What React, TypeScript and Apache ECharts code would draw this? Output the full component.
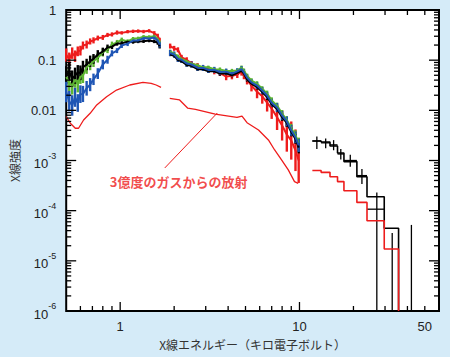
import { useEffect, useRef } from 'react';
import * as echarts from 'echarts';

// ---- axes ----
const X_MIN = 0.5;
const X_MAX = 60;
const Y_MIN = 1e-6;
const Y_MAX = 1;
const xMajorTicks = [1, 10];
const xMinorTicks = [0.6, 0.7, 0.8, 0.9, 2, 3, 4, 5, 6, 7, 8, 9, 20, 30, 40, 50];
const xTickLabels = [1, 10, 50];
const yDecades = [1e-6, 1e-5, 1e-4, 1e-3, 0.01, 0.1, 1];
const yMinorSteps = [2, 3, 4, 5, 6, 7, 8, 9];

// ---- energies (keV) ----
const E1 = [0.50, 0.52, 0.54, 0.56, 0.58, 0.60, 0.62, 0.65, 0.68, 0.71, 0.75, 0.80, 0.85, 0.90, 0.96, 1.02, 1.10, 1.18, 1.26, 1.35, 1.45, 1.55, 1.62, 1.66];
const E2 = [1.90, 2.0, 2.1, 2.2, 2.35, 2.5, 2.7, 2.9, 3.1, 3.35, 3.6, 3.9, 4.2, 4.5, 4.75, 4.9, 5.1, 5.4, 5.8, 6.2, 6.6, 7.0, 7.5, 8.0, 8.5, 9.0, 9.5, 9.9];

// ---- observed spectra (4 detectors) ----
const red1 = [0.127, 0.105, 0.138, 0.120, 0.150, 0.155, 0.196, 0.205, 0.236, 0.248, 0.276, 0.284, 0.318, 0.326, 0.355, 0.350, 0.370, 0.376, 0.380, 0.372, 0.384, 0.345, 0.306, 0.250];
const red1Err = [1.35, 1.35, 1.3, 1.3, 1.25, 1.25, 1.2, 1.2, 1.15, 1.15, 1.12, 1.12, 1.1, 1.1, 1.1, 1.08, 1.08, 1.08, 1.08, 1.08, 1.08, 1.1, 1.1, 1.12];
const red2 = [0.191, 0.172, 0.161, 0.114, 0.102, 0.086, 0.078, 0.069, 0.065, 0.060, 0.056, 0.047, 0.049, 0.052, 0.059, 0.050, 0.041, 0.031, 0.0235, 0.019, 0.0142, 0.0108, 0.0073, 0.0050, 0.0033, 0.0025, 0.0016, 0.0010];
const red2Err = [1.12, 1.12, 1.12, 1.12, 1.12, 1.12, 1.12, 1.12, 1.15, 1.15, 1.15, 1.18, 1.18, 1.18, 1.2, 1.2, 1.25, 1.3, 1.35, 1.4, 1.5, 1.6, 1.8, 2.0, 2.2, 2.4, 2.6, 2.8];

const green1 = [0.0462, 0.0360, 0.0310, 0.0410, 0.0330, 0.0470, 0.0490, 0.0720, 0.0820, 0.0950, 0.112, 0.142, 0.163, 0.204, 0.226, 0.256, 0.236, 0.268, 0.272, 0.293, 0.290, 0.300, 0.266, 0.224];
const green1Err = [1.5, 1.5, 1.5, 1.45, 1.45, 1.4, 1.4, 1.35, 1.3, 1.3, 1.25, 1.2, 1.18, 1.15, 1.12, 1.1, 1.1, 1.08, 1.08, 1.08, 1.08, 1.08, 1.1, 1.1];
const green2 = [0.150, 0.134, 0.120, 0.106, 0.096, 0.085, 0.079, 0.072, 0.072, 0.066, 0.065, 0.061, 0.061, 0.062, 0.071, 0.062, 0.049, 0.039, 0.034, 0.027, 0.0215, 0.0158, 0.0124, 0.0086, 0.0064, 0.0044, 0.0032, 0.0022];
const green2Err = [1.08, 1.08, 1.08, 1.08, 1.08, 1.08, 1.08, 1.08, 1.08, 1.08, 1.1, 1.1, 1.1, 1.1, 1.1, 1.1, 1.1, 1.12, 1.12, 1.12, 1.15, 1.15, 1.15, 1.18, 1.2, 1.22, 1.25, 1.3];

const black1 = [0.0506, 0.0600, 0.0430, 0.0490, 0.0570, 0.0560, 0.0720, 0.0820, 0.0950, 0.106, 0.130, 0.148, 0.178, 0.186, 0.214, 0.216, 0.234, 0.230, 0.236, 0.238, 0.246, 0.236, 0.224, 0.188];
const black1Err = [1.5, 1.5, 1.45, 1.45, 1.4, 1.4, 1.35, 1.3, 1.3, 1.25, 1.22, 1.2, 1.15, 1.12, 1.1, 1.1, 1.08, 1.08, 1.08, 1.08, 1.08, 1.08, 1.1, 1.1];
const black2 = [0.130, 0.122, 0.100, 0.095, 0.080, 0.077, 0.066, 0.066, 0.060, 0.060, 0.054, 0.055, 0.050, 0.056, 0.061, 0.054, 0.041, 0.034, 0.029, 0.0232, 0.0184, 0.0132, 0.0106, 0.0073, 0.0056, 0.0037, 0.0027, 0.0018];
const black2Err = [1.08, 1.08, 1.08, 1.08, 1.08, 1.08, 1.08, 1.08, 1.08, 1.08, 1.1, 1.1, 1.1, 1.1, 1.1, 1.1, 1.1, 1.12, 1.12, 1.12, 1.15, 1.15, 1.15, 1.18, 1.2, 1.22, 1.25, 1.3];

const blue1 = [0.0232, 0.0152, 0.0125, 0.0182, 0.0140, 0.0210, 0.0212, 0.0275, 0.0325, 0.0415, 0.0540, 0.082, 0.102, 0.137, 0.155, 0.196, 0.214, 0.246, 0.248, 0.276, 0.270, 0.282, 0.246, 0.204];
const blue1Err = [1.6, 1.6, 1.6, 1.55, 1.5, 1.5, 1.45, 1.4, 1.35, 1.3, 1.28, 1.25, 1.2, 1.15, 1.12, 1.12, 1.12, 1.1, 1.1, 1.1, 1.1, 1.1, 1.12, 1.14];
const blue2 = [0.139, 0.130, 0.106, 0.102, 0.086, 0.082, 0.071, 0.070, 0.064, 0.064, 0.058, 0.059, 0.054, 0.060, 0.066, 0.057, 0.0450, 0.0360, 0.0312, 0.0248, 0.0198, 0.0142, 0.0114, 0.0079, 0.0060, 0.0040, 0.0029, 0.0020];
const blue2Err = [1.15, 1.15, 1.15, 1.15, 1.15, 1.15, 1.15, 1.15, 1.15, 1.15, 1.15, 1.15, 1.15, 1.15, 1.15, 1.15, 1.16, 1.16, 1.17, 1.18, 1.18, 1.2, 1.22, 1.22, 1.25, 1.28, 1.3, 1.35];

// ---- 300-million-degree gas model ----
const modelE1 = [0.50, 0.527, 0.562, 0.586, 0.625, 0.68, 0.74, 0.84, 0.954, 1.131, 1.34, 1.489, 1.587, 1.69];
const modelI1 = [0.00747, 0.00552, 0.00439, 0.00439, 0.00641, 0.00873, 0.0128, 0.0187, 0.0254, 0.032, 0.0362, 0.0346, 0.032, 0.0288];
const modelE2 = [1.89, 2.145, 2.376, 2.63, 3.39, 4.48, 4.78, 5.1, 5.91, 6.71, 7.27, 7.96, 8.66, 9.38, 9.84];
const modelI2 = [0.0174, 0.0161, 0.0111, 0.0105, 0.0084, 0.00727, 0.0077, 0.00567, 0.00406, 0.00257, 0.00162, 0.00102, 0.00065, 0.00038, 0.00035];

// ---- hard X-ray band (binned) ----
const hardEdges = [11.8, 13.2, 14.8, 16.3, 17.7, 20.9, 23.8, 29.7, 35.7];
const hardModelTotal = [2.45e-3, 2.34e-3, 1.95e-3, 1.41e-3, 9.5e-4, 4.75e-4, 1.9e-4, 4.45e-5];
const hardModelGas = [6.3e-4, 5.8e-4, 4.75e-4, 3.8e-4, 2.5e-4, 1.46e-4, 6.3e-5, 1.72e-5];
const hardDataE = [12.5, 14.0, 15.5, 17.0, 19.2, 22.3, 27.0, 32.9, 42.1];
const hardDataLoE = [11.8, 13.2, 14.8, 16.3, 17.7, 20.9, 23.8, 32.9, 42.1];
const hardDataHiE = [13.2, 14.8, 16.3, 17.7, 20.9, 23.8, 29.7, 32.9, 42.1];
const hardData = [2.45e-3, 2.25e-3, 2.05e-3, 1.35e-3, 1.0e-3, 5.0e-4, 1.07e-4, 3.6e-5, 5.2e-5];
const hardDataLo = [1.7e-3, 1.75e-3, 1.6e-3, 1.05e-3, 7.5e-4, 3.4e-4, 1e-6, 1e-6, 1e-6];
const hardDataHi = [3.0e-3, 2.75e-3, 2.55e-3, 1.7e-3, 1.3e-3, 6.8e-4, 2.3e-4, 3.6e-5, 5.2e-5];

// ---- annotation ----
const annotText = '3億度のガスからの放射';
const annotAt = [2.118, 3.73e-4];
const leaderFrom = [1.773, 7.1e-4];
const leaderTo = [3.48, 0.00885];

const RED = '#ee1c1c';
const GREEN = '#5cb531';
const BLACK = '#000000';
const BLUE = '#1f56b5';
const BG = '#d5ebf8';
const NUM_FONT = "'Liberation Sans', Arial, sans-serif";
const JP_FONT = "'Noto Sans CJK JP', sans-serif";

const lg = Math.log10;

function pts(E: number[], I: number[]) {
  return E.map((e, i) => [lg(e), lg(I[i])]);
}
function bars(E: number[], I: number[], F: number[]) {
  return E.map((e, i) => [lg(e), lg(I[i]), lg(I[i] / F[i]), lg(I[i] * F[i])]);
}
function stepPts(edges: number[], vals: number[]) {
  const d = edges.map((e, i) => [lg(e), lg(vals[Math.min(i, vals.length - 1)])]);
  d.push([lg(edges[edges.length - 1]), lg(Y_MIN)]);
  return d;
}

function errorBarSeries(data: number[][], color: string, width: number) {
  return {
    type: 'custom',
    silent: true,
    data,
    encode: { x: 0, y: 1 },
    renderItem: (_p: any, api: any) => {
      const a = api.coord([api.value(0), api.value(2)]);
      const b = api.coord([api.value(0), api.value(3)]);
      return {
        type: 'line',
        shape: { x1: a[0], y1: a[1], x2: b[0], y2: b[1] },
        style: { stroke: color, lineWidth: width },
      };
    },
  };
}

function noisy(E: number[], I: number[], F: number[], color: string) {
  return [
    {
      type: 'line',
      data: pts(E, I),
      showSymbol: false,
      symbol: 'none',
      silent: true,
      lineStyle: { color, width: 2 },
    },
    errorBarSeries(bars(E, I, F), color, 2.4),
  ];
}

const App = () => {
  const ref = useRef<HTMLDivElement>(null);
  useEffect(() => {
    document.body.style.margin = '0';
    const chart = echarts.init(ref.current!, null, { renderer: 'svg' });

    const yMinor = yDecades.slice(0, -1).flatMap((d) => yMinorSteps.map((k) => k * d));
    const midY = lg(1e-3);
    const midX = lg(2);
    // tick data kept inside the plotting range; drawn onto the frame edges
    const xTickData = [
      ...xMajorTicks.map((v) => [lg(v), midY, 9]),
      ...xMinorTicks.map((v) => [lg(v), midY, 5]),
    ];
    const yTickData = [
      ...yDecades.map((v) => [midX, lg(v), 10]),
      ...yMinor.map((v) => [midX, lg(v), 5]),
    ];

    const option: any = {
      animation: false,
      backgroundColor: BG,
      grid: {
        left: 62,
        right: 11,
        top: 10,
        bottom: 46,
        show: true,
        backgroundColor: '#ffffff',
        borderWidth: 2,
        borderColor: '#000',
      },
      xAxis: {
        type: 'value',
        min: lg(X_MIN),
        max: lg(X_MAX),
        splitLine: { show: false },
        axisLine: { show: false, onZero: false },
        axisTick: { show: false },
        axisLabel: {
          show: true,
          customValues: xTickLabels.map(lg),
          formatter: (v: number) => String(Math.round(Math.pow(10, v))),
          margin: 9,
          fontSize: 13,
          color: '#222',
          fontFamily: NUM_FONT,
        },
        name: 'X線エネルギー（キロ電子ボルト）',
        nameLocation: 'middle',
        nameGap: 27,
        nameTextStyle: { fontFamily: JP_FONT, fontSize: 12, color: '#333' },
      },
      yAxis: {
        type: 'value',
        min: lg(Y_MIN),
        max: lg(Y_MAX),
        splitLine: { show: false },
        axisLine: { show: false, onZero: false },
        axisTick: { show: false },
        axisLabel: {
          show: true,
          customValues: yDecades.map(lg),
          margin: 10,
          fontSize: 13,
          color: '#222',
          fontFamily: NUM_FONT,
          formatter: (v: number) => {
            const n = Math.round(v);
            if (n === 0) return '1';
            if (n === -1) return '0.1';
            if (n === -2) return '0.01';
            return '{b|10}{sup|' + n + '}';
          },
          rich: {
            b: { fontSize: 13, fontFamily: NUM_FONT, color: '#222', padding: [6, 0, 0, 0] },
            sup: { fontSize: 9, fontFamily: NUM_FONT, color: '#222', verticalAlign: 'top' },
          },
        },
        name: 'X線強度',
        nameLocation: 'middle',
        nameGap: 36,
        nameRotate: 90,
        nameTextStyle: { fontFamily: JP_FONT, fontSize: 12, color: '#333' },
      },
      series: [
        {
          // x ticks (inside, bottom and top)
          type: 'custom',
          z: 20,
          data: xTickData,
          encode: { x: 0, y: 1 },
          renderItem: (_p: any, api: any) => {
            const len = api.value(2);
            const b = api.coord([api.value(0), lg(Y_MIN)]);
            const t = api.coord([api.value(0), lg(Y_MAX)]);
            return {
              type: 'group',
              children: [
                { type: 'line', shape: { x1: b[0], y1: b[1], x2: b[0], y2: b[1] - len }, style: { stroke: '#000', lineWidth: 1.3 } },
                { type: 'line', shape: { x1: t[0], y1: t[1], x2: t[0], y2: t[1] + len }, style: { stroke: '#000', lineWidth: 1.3 } },
              ],
            };
          },
        },
        {
          // y ticks (inside, left and right)
          type: 'custom',
          z: 20,
          data: yTickData,
          encode: { x: 0, y: 1 },
          renderItem: (_p: any, api: any) => {
            const len = api.value(2);
            const l = api.coord([lg(X_MIN), api.value(1)]);
            const r = api.coord([lg(X_MAX), api.value(1)]);
            return {
              type: 'group',
              children: [
                { type: 'line', shape: { x1: l[0], y1: l[1], x2: l[0] + len, y2: l[1] }, style: { stroke: '#000', lineWidth: 1.3 } },
                { type: 'line', shape: { x1: r[0], y1: r[1], x2: r[0] - len, y2: r[1] }, style: { stroke: '#000', lineWidth: 1.3 } },
              ],
            };
          },
        },
        ...noisy(E1, red1, red1Err, RED),
        ...noisy(E2, red2, red2Err, RED),
        ...noisy(E1, green1, green1Err, GREEN),
        ...noisy(E2, green2, green2Err, GREEN),
        ...noisy(E1, black1, black1Err, BLACK),
        ...noisy(E2, black2, black2Err, BLACK),
        ...noisy(E1, blue1, blue1Err, BLUE),
        ...noisy(E2, blue2, blue2Err, BLUE),
        {
          type: 'line',
          data: pts(modelE1, modelI1),
          showSymbol: false,
          symbol: 'none',
          silent: true,
          lineStyle: { color: RED, width: 1.3 },
        },
        {
          type: 'line',
          data: pts(modelE2, modelI2),
          showSymbol: false,
          symbol: 'none',
          silent: true,
          lineStyle: { color: RED, width: 1.3 },
        },
        {
          type: 'line',
          step: 'end',
          data: stepPts(hardEdges, hardModelTotal),
          showSymbol: false,
          symbol: 'none',
          silent: true,
          lineStyle: { color: BLACK, width: 1.6 },
        },
        {
          type: 'custom',
          silent: true,
          data: hardDataE.map((e, i) => [lg(e), lg(hardData[i]), lg(hardDataLoE[i]), lg(hardDataHiE[i]), lg(hardDataLo[i]), lg(hardDataHi[i])]),
          encode: { x: 0, y: 1 },
          renderItem: (_p: any, api: any) => {
            const h1 = api.coord([api.value(2), api.value(1)]);
            const h2 = api.coord([api.value(3), api.value(1)]);
            const v1 = api.coord([api.value(0), api.value(4)]);
            const v2 = api.coord([api.value(0), api.value(5)]);
            return {
              type: 'group',
              children: [
                { type: 'line', shape: { x1: h1[0], y1: h1[1], x2: h2[0], y2: h2[1] }, style: { stroke: BLACK, lineWidth: 1.3 } },
                { type: 'line', shape: { x1: v1[0], y1: v1[1], x2: v2[0], y2: v2[1] }, style: { stroke: BLACK, lineWidth: 1.3 } },
              ],
            };
          },
        },
        {
          type: 'line',
          step: 'end',
          data: stepPts(hardEdges, hardModelGas),
          showSymbol: false,
          symbol: 'none',
          silent: true,
          lineStyle: { color: RED, width: 1.6 },
        },
        {
          type: 'custom',
          silent: true,
          data: [[lg(leaderFrom[0]), lg(leaderFrom[1]), lg(leaderTo[0]), lg(leaderTo[1])]],
          encode: { x: 0, y: 1 },
          renderItem: (_p: any, api: any) => {
            const a = api.coord([api.value(0), api.value(1)]);
            const b = api.coord([api.value(2), api.value(3)]);
            return { type: 'line', shape: { x1: a[0], y1: a[1], x2: b[0], y2: b[1] }, style: { stroke: RED, lineWidth: 1 } };
          },
        },
        {
          type: 'scatter',
          silent: true,
          data: [[lg(annotAt[0]), lg(annotAt[1])]],
          symbolSize: 1,
          itemStyle: { color: 'rgba(0,0,0,0)' },
          label: {
            show: true,
            position: 'inside',
            formatter: annotText,
            color: RED,
            fontSize: 13,
            fontWeight: 'bold',
            fontFamily: JP_FONT,
          },
        },
      ],
    };
    chart.setOption(option);
    return () => chart.dispose();
  }, []);
  return <div ref={ref} style={{ width: 450, height: 357, background: BG }} />;
};

export default App;
